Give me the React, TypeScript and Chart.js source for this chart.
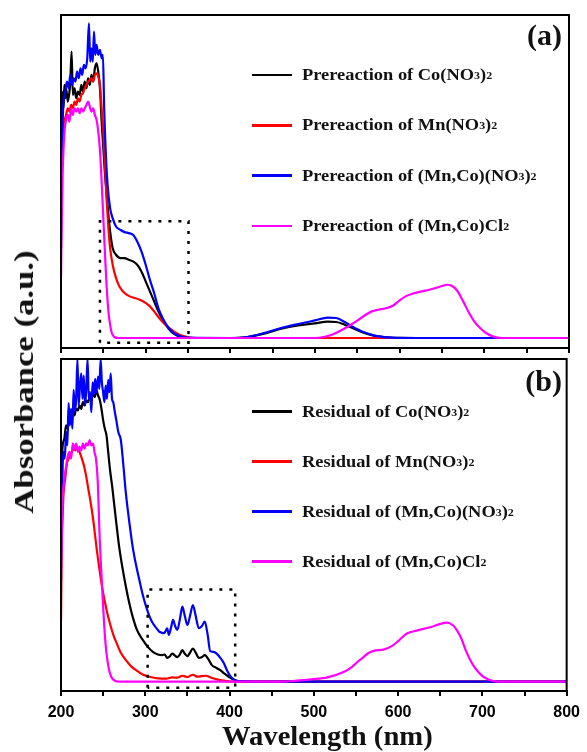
import React, { useEffect, useRef } from "react";
import { Chart, registerables } from "chart.js";

Chart.register(...registerables);

// ---------- axis / tick data ----------
const X_MIN = 200;
const X_MAX = 800;
const X_TICK_STEP = 50;
const X_LABEL_STEP = 100;

const COLORS = ["#000000", "#ff0000", "#0000ff", "#ff00ff"];

const LABELS_A = [
  "Prereaction of Co(NO3)2",
  "Prereaction of Mn(NO3)2",
  "Prereaction of (Mn,Co)(NO3)2",
  "Prereaction of (Mn,Co)Cl2",
];
const LABELS_B = [
  "Residual of Co(NO3)2",
  "Residual of Mn(NO3)2",
  "Residual of (Mn,Co)(NO3)2",
  "Residual of (Mn,Co)Cl2",
];

// ---------- panel (a): prereaction ----------
const WL_A_CO = [200,201,202,203,204,205,206,208,210,211,212.5,214,216,218,220,222,224,226,228,230,232,234,236,238,240,242,244,246,248,250,252,254,256,258,261,265,270,275,280,285,290,295,300,305,310,315,320,325,330,335,340,350,400,420,440,460,480,500,515,525,535,545,555,565,575,590,620,800];
const ABS_A_CO = [0.42,0.62,0.77,0.72,0.79,0.75,0.78,0.74,0.77,0.80,0.89,0.76,0.78,0.75,0.77,0.76,0.79,0.77,0.80,0.78,0.81,0.79,0.82,0.80,0.84,0.855,0.83,0.78,0.68,0.60,0.52,0.46,0.40,0.35,0.30,0.28,0.27,0.27,0.265,0.26,0.25,0.23,0.20,0.17,0.14,0.11,0.085,0.065,0.05,0.04,0.034,0.03,0.03,0.033,0.043,0.058,0.068,0.074,0.079,0.078,0.07,0.059,0.048,0.04,0.035,0.031,0.03,0.03];

const WL_A_MN = [200,201,202,204,206,208,210,212,214,216,218,220,222,224,226,228,230,232,234,236,238,240,242,244,246,248,250,252,254,256,258,261,265,269,275,281,287,293,299,305,310,316,322,328,334,340,346,352,360,800];
const ABS_A_MN = [0.50,0.58,0.64,0.68,0.70,0.72,0.71,0.73,0.72,0.74,0.73,0.75,0.74,0.76,0.765,0.78,0.79,0.80,0.805,0.81,0.80,0.82,0.825,0.815,0.79,0.72,0.645,0.54,0.44,0.36,0.30,0.25,0.21,0.185,0.165,0.155,0.15,0.145,0.137,0.125,0.11,0.09,0.073,0.06,0.048,0.04,0.035,0.031,0.03,0.03];

const WL_A_MNCO = [200,201,202,203,205,207,209,211,213,215,217,219,221,223,225,227,229,231,233,234.5,236,237.5,239,240.5,242,244,246,248,249.5,251,253,255,258,261,265,270,275,280,285,290,295,300,305,310,315,320,325,330,335,340,350,400,420,440,460,480,500,515,525,535,545,555,565,575,590,620,800];
const ABS_A_MNCO = [0.30,0.55,0.68,0.74,0.77,0.80,0.78,0.82,0.79,0.81,0.80,0.83,0.81,0.84,0.82,0.85,0.84,0.87,0.975,0.86,0.90,0.86,0.95,0.88,0.91,0.88,0.895,0.87,0.88,0.72,0.58,0.49,0.42,0.39,0.365,0.355,0.348,0.345,0.34,0.32,0.29,0.25,0.205,0.165,0.12,0.09,0.068,0.052,0.042,0.036,0.031,0.03,0.033,0.045,0.06,0.072,0.083,0.091,0.09,0.078,0.063,0.05,0.041,0.035,0.031,0.03,0.03];

const WL_A_CL = [200,201,202,203,204.5,206.5,208,210,212,214,216,218,220,222,224,226,228,230,232,234,236,238,240,242,244,246,248,250,252,254,256,258,260,263,268,500,510,520,530,540,550,560,567,575,585,592,600,607,615,626,635,642,650,656,662,668,675,682,688,695,702,710,720,800];
const ABS_A_CL = [0.21,0.40,0.53,0.60,0.66,0.69,0.70,0.68,0.72,0.70,0.72,0.71,0.72,0.705,0.72,0.71,0.72,0.73,0.74,0.725,0.71,0.72,0.70,0.685,0.65,0.595,0.50,0.39,0.28,0.18,0.11,0.07,0.045,0.033,0.03,0.03,0.033,0.04,0.052,0.066,0.082,0.10,0.11,0.115,0.12,0.127,0.143,0.155,0.163,0.17,0.175,0.18,0.186,0.19,0.186,0.172,0.14,0.105,0.08,0.06,0.045,0.035,0.03,0.03];

const RECT_A_X = [246, 246, 350.6, 350.6, 246];
const RECT_A_Y = [0.016, 0.381, 0.381, 0.016, 0.016];

// ---------- panel (b): residual ----------
const WL_B_CO = [200,201,202,204,206,208,210,212,214,216,218,220,222,224,226,228,230,232,234,236,238,240,242,244,246,248,250,252,254,256,258,261,265,269,273,277,281,285,290,297,303,309,315,320,323,326,329,332,335,338,341,344,347,350,353,356.5,360,363.5,367,370.6,375,379,384,389,394,399,404,410,450,800];
const ABS_B_CO = [0.62,0.69,0.74,0.76,0.80,0.79,0.83,0.81,0.84,0.83,0.85,0.845,0.86,0.85,0.87,0.86,0.875,0.87,0.885,0.88,0.895,0.885,0.905,0.89,0.877,0.85,0.816,0.79,0.77,0.72,0.67,0.61,0.52,0.435,0.37,0.314,0.265,0.224,0.185,0.154,0.133,0.118,0.11,0.108,0.11,0.10,0.104,0.113,0.107,0.102,0.11,0.123,0.112,0.105,0.115,0.128,0.115,0.10,0.102,0.108,0.095,0.078,0.07,0.063,0.052,0.043,0.035,0.03,0.028,0.028];

const WL_B_MN = [200,201,202,203,205,207,209,211,213,215,217,218.5,220,222,224,226,228,230,233,236,239,242,246,250,254,258,262,266,271,277,283,289,297,305,315,325,332,338,344,350,356.5,362,367,372,378,385,393,403,800];
const ABS_B_MN = [0.21,0.45,0.53,0.595,0.64,0.685,0.70,0.715,0.72,0.73,0.725,0.736,0.73,0.72,0.706,0.69,0.67,0.645,0.60,0.555,0.50,0.435,0.36,0.295,0.245,0.204,0.17,0.144,0.115,0.093,0.075,0.063,0.05,0.043,0.038,0.037,0.041,0.04,0.046,0.042,0.049,0.043,0.045,0.046,0.04,0.035,0.031,0.028,0.028];

const WL_B_MNCO = [200,201,202,203,204.5,206,207.5,209,210.5,212,213.5,215,216.5,218,219.5,221,222.5,224,225.5,227,228.5,230,231.5,233,234.5,236,237.5,239,240.5,242,244,245.5,247,248.5,250,251.5,253,254.5,256,257.5,259,260.5,262,263.5,266,268,271,274,277,281,285,289,293,297,301,305,309,313,316.5,319,322,324,326,328,330.5,333,335.5,338,341,344,347,350,353,356.5,359.5,363.5,367,370.6,374,377,381,385,389,393,397,401,405,410,450,800];
const ABS_B_MNCO = [0.40,0.55,0.68,0.72,0.70,0.78,0.74,0.867,0.80,0.85,0.79,0.907,0.84,0.88,1.0,0.86,0.92,0.957,0.88,0.95,0.86,0.91,1.0,0.88,0.90,0.84,0.93,0.895,0.94,0.90,0.947,0.91,1.0,0.93,0.90,0.87,0.92,0.88,0.937,0.90,0.957,0.88,0.87,0.846,0.81,0.78,0.756,0.68,0.595,0.51,0.435,0.38,0.334,0.29,0.254,0.225,0.204,0.19,0.179,0.176,0.174,0.18,0.189,0.169,0.19,0.214,0.195,0.184,0.215,0.254,0.225,0.199,0.225,0.259,0.23,0.189,0.195,0.209,0.17,0.12,0.118,0.112,0.10,0.085,0.062,0.045,0.035,0.03,0.028,0.028];

const WL_B_CL = [200,201,202,204,206,208,210,212,214,216,218,220,222,224,226,228,230,232,234,236,238,240,241.5,243.5,246,248,250,252,254,256.5,259.6,264,270,460,480,497,516,536,545,552,558,564,571,583,593,600,605,611,622,638,650,658,665,670,675,681,689,695,701,708,713,720,800];
const ABS_B_CL = [0.33,0.48,0.575,0.64,0.675,0.706,0.72,0.70,0.746,0.73,0.745,0.72,0.736,0.725,0.745,0.73,0.746,0.74,0.756,0.74,0.745,0.716,0.70,0.636,0.455,0.35,0.254,0.17,0.113,0.07,0.043,0.031,0.028,0.028,0.031,0.035,0.041,0.058,0.072,0.088,0.10,0.113,0.121,0.125,0.136,0.15,0.162,0.174,0.182,0.192,0.202,0.206,0.198,0.182,0.158,0.118,0.078,0.058,0.043,0.034,0.03,0.028,0.028];

const RECT_B_X = [302.8, 302.8, 406.7, 406.7, 302.8];
const RECT_B_Y = [0.01, 0.306, 0.306, 0.01, 0.01];

// ---------- helpers ----------
type Series = { x: number[]; y: number[] };

const SERIES_A: Series[] = [
  { x: WL_A_CO, y: ABS_A_CO },
  { x: WL_A_MN, y: ABS_A_MN },
  { x: WL_A_MNCO, y: ABS_A_MNCO },
  { x: WL_A_CL, y: ABS_A_CL },
];
const SERIES_B: Series[] = [
  { x: WL_B_CO, y: ABS_B_CO },
  { x: WL_B_MN, y: ABS_B_MN },
  { x: WL_B_MNCO, y: ABS_B_MNCO },
  { x: WL_B_CL, y: ABS_B_CL },
];

function pts(xs: number[], ys: number[]) {
  return xs.map((x, i) => ({ x, y: ys[i] }));
}

const framePlugin = {
  id: "frame",
  afterDatasetsDraw(chart: any) {
    const { ctx, chartArea: a } = chart;
    ctx.save();
    ctx.strokeStyle = "#000";
    ctx.lineWidth = 2;
    ctx.strokeRect(a.left, a.top, a.right - a.left, a.bottom - a.top);
    ctx.restore();
  },
};

const SERIF = "'Liberation Serif', 'Times New Roman', serif";

function makeConfig(
  series: Series[],
  rect: Series,
  showLabels: boolean,
  padTop: number,
  padBottom: number,
  axisHeight: number | null
): any {
  const datasets: any[] = [
    {
      data: pts(rect.x, rect.y),
      borderColor: "#000",
      borderWidth: 2.5,
      borderDash: [3, 7],
      tension: 0,
      pointRadius: 0,
      fill: false,
    },
  ];
  [3, 2, 1, 0].forEach((i) => {
    datasets.push({
      data: pts(series[i].x, series[i].y),
      borderColor: COLORS[i],
      borderWidth: 2.2,
      pointRadius: 0,
      cubicInterpolationMode: "monotone",
      fill: false,
    });
  });
  const xScale: any = {
    type: "linear",
    min: X_MIN,
    max: X_MAX,
    position: "bottom",
    grid: {
      display: true,
      drawOnChartArea: false,
      drawTicks: true,
      tickLength: 5,
      color: "#000",
      lineWidth: 2,
    },
    border: { display: true, color: "#000", width: 2 },
    ticks: {
      display: showLabels,
      stepSize: X_TICK_STEP,
      autoSkip: false,
      maxRotation: 0,
      padding: 7,
      color: "#000",
      font: { family: "'Liberation Sans', Arial, sans-serif", weight: "bold", size: 16 },
      callback: (v: number) => (v % X_LABEL_STEP === 0 ? String(v) : ""),
    },
  };
  if (axisHeight !== null) {
    xScale.afterFit = (s: any) => {
      s.height = axisHeight;
    };
  }
  return {
    type: "line",
    data: { datasets },
    options: {
      animation: false,
      responsive: false,
      events: [],
      layout: { padding: { left: 61, right: 18, top: padTop, bottom: padBottom } },
      plugins: { legend: { display: false }, tooltip: { enabled: false }, title: { display: false } },
      scales: {
        x: xScale,
        y: { display: false, min: 0, max: 1 },
      },
    },
    plugins: [framePlugin],
  };
}

function Formula({ text }: { text: string }) {
  const parts = text.split(/(\d)/);
  return (
    <>
      {parts.map((p, i) =>
        /^\d$/.test(p) ? (
          <span key={i} style={{ fontSize: "0.65em", verticalAlign: "0.05em" }}>
            {p}
          </span>
        ) : (
          <React.Fragment key={i}>{p}</React.Fragment>
        )
      )}
    </>
  );
}

function Legend({ labels, y0, dy }: { labels: string[]; y0: number; dy: number }) {
  return (
    <>
      {labels.map((lab, i) => {
        const y = y0 + dy * i;
        return (
          <React.Fragment key={i}>
            <div
              style={{
                position: "absolute",
                left: 252,
                top: y - 1.25,
                width: 40,
                height: 2.5,
                background: COLORS[i],
              }}
            />
            <div
              style={{
                position: "absolute",
                left: 302,
                top: y - 8.1,
                font: `bold 16px ${SERIF}`,
                lineHeight: "16px",
                whiteSpace: "nowrap",
                color: "#111",
                transform: "scaleX(1.15)",
                transformOrigin: "left center",
              }}
            >
              <Formula text={lab} />
            </div>
          </React.Fragment>
        );
      })}
    </>
  );
}

export default function App() {
  const refA = useRef<HTMLCanvasElement>(null);
  const refB = useRef<HTMLCanvasElement>(null);

  useEffect(() => {
    const a = new Chart(refA.current as HTMLCanvasElement, makeConfig(SERIES_A, { x: RECT_A_X, y: RECT_A_Y }, false, 15, 2, null));
    const b = new Chart(refB.current as HTMLCanvasElement, makeConfig(SERIES_B, { x: RECT_B_X, y: RECT_B_Y }, true, 4, 0, 61));
    return () => {
      a.destroy();
      b.destroy();
    };
  }, []);

  return (
    <div
      style={{
        position: "absolute",
        left: 0,
        top: 0,
        width: 587,
        height: 752,
        overflow: "hidden",
        background: "#fff",
      }}
    >
      <canvas ref={refA} width={587} height={355} style={{ position: "absolute", left: 0, top: 0 }} />
      <canvas ref={refB} width={587} height={397} style={{ position: "absolute", left: 0, top: 355 }} />

      <Legend labels={LABELS_A} y0={75} dy={50.3} />
      <Legend labels={LABELS_B} y0={411.7} dy={50} />

      <div
        style={{
          position: "absolute",
          right: 587 - 562,
          top: 19.5,
          font: `bold 30px ${SERIF}`,
          lineHeight: "30px",
          color: "#111",
        }}
      >
        (a)
      </div>
      <div
        style={{
          position: "absolute",
          right: 587 - 562,
          top: 366.2,
          font: `bold 30px ${SERIF}`,
          lineHeight: "30px",
          color: "#111",
        }}
      >
        (b)
      </div>

      <div
        style={{
          position: "absolute",
          left: 24.2,
          top: 381.5,
          font: `bold 28px ${SERIF}`,
          lineHeight: "28px",
          whiteSpace: "nowrap",
          color: "#111",
          transform: "translate(-50%, -50%) rotate(-90deg) scaleX(1.24)",
        }}
      >
        Absorbance (a.u.)
      </div>

      <div
        style={{
          position: "absolute",
          left: 222,
          top: 723,
          font: `bold 27px ${SERIF}`,
          lineHeight: "27px",
          whiteSpace: "nowrap",
          color: "#111",
          transform: "scaleX(1.06)",
          transformOrigin: "left center",
        }}
      >
        Wavelength (nm)
      </div>
    </div>
  );
}
